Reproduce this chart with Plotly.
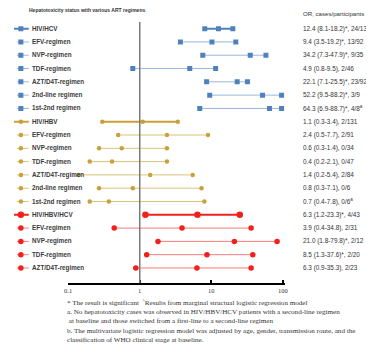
import plotly.graph_objects as go

# ---------------- data ----------------
labels_hcv = ["HIV/HCV", "EFV-regimen", "NVP-regimen", "TDF-regimen",
              "AZT/D4T-regimen", "2nd-line regimen", "1st-2nd regimen"]
labels_hbv = ["HIV/HBV", "EFV-regimen", "NVP-regimen", "TDF-regimen",
              "AZT/D4T-regimen", "2nd-line regimen", "1st-2nd regimen"]
labels_tri = ["HIV/HBV/HCV", "EFV-regimen", "NVP-regimen", "TDF-regimen",
              "AZT/D4T-regimen"]

or_hcv = [12.6, 10.2, 35.0, 5.0, 23.0, 52.0, 65.0]
lo_hcv = [8.1, 3.7, 7.6, 0.8, 8.6, 9.5, 6.9]
hi_hcv = [20.0, 22.0, 58.0, 11.5, 32.0, 96.0, 96.0]

or_hbv = [1.1, 2.4, 0.56, 0.41, 1.4, 0.8, 0.37]
lo_hbv = [0.3, 0.5, 0.27, 0.2, 0.14, 0.27, 0.2]
hi_hbv = [3.4, 9.0, 2.4, 2.4, 5.5, 7.3, 8.0]

or_tri = [6.4, 3.9, 21.0, 8.7, 6.3]
lo_tri = [1.2, 0.44, 1.8, 1.25, 0.88]
hi_tri = [25.0, 36.0, 83.0, 38.0, 36.0]

txt_hcv = ["12.4 (8.1-18.2)*, 24/130", "9.4 (3.5-19.2)*, 13/92",
           "34.2 (7.3-47.9)*, 9/35", "4.9 (0.8-9.5), 2/46",
           "22.1 (7.1-25.5)*, 23/92", "52.2 (9.5-88.2)*, 3/9",
           "64.3 (6.9-88.7)*, 4/8<sup>a</sup>"]
txt_hbv = ["1.1 (0.3-3.4), 2/131", "2.4 (0.5-7.7), 2/91",
           "0.6 (0.3-1.4), 0/34", "0.4 (0.2-2.1), 0/47",
           "1.4 (0.2-5.4), 2/84", "0.8 (0.3-7.1), 0/6",
           "0.7 (0.4-7.8), 0/6<sup>a</sup>"]
txt_tri = ["6.3 (1.2-23.3)*, 4/43", "3.9 (0.4-34.8), 2/31",
           "21.0 (1.8-79.8)*, 2/12", "8.5 (1.3-37.6)*, 2/20",
           "6.3 (0.9-35.3), 2/23"]

tick_vals = [0.1, 1, 10, 100]
tick_text = ["0.1", "1", "10", "100"]

title_text = "Hepatotoxicity status with various ART regimens"
right_header = "OR, cases/participants"
footnotes = [
    "* The result is significant  <sup>^</sup>Results from marginal structual logistic regression model",
    "a. No hepatotoxicity cases was observed in HIV/HBV/HCV patients with a second-line regimen",
    " at baseline and those switched from a first-line to a second-line regimen",
    "b. The multivariate logistic regression model was adjusted by age, gender, transmission route, and the",
    "classification of WHO clinical stage at baseline.",
]

# ---------------- layout geometry (page px; page body has 8px margin) ----------------
OFF = 8
W, H = 374 - OFF, 347 - OFF
PLOT_TOP, PLOT_BOTTOM, PLOT_RIGHT = 22, 283, 285
AX_LEFT = 65
ML = 0
MT = PLOT_TOP - OFF
MB = (H + OFF) - PLOT_BOTTOM
MR = (W + OFF) - PLOT_RIGHT
PW = W - ML - MR
PH = H - MT - MB

styles = [
    dict(mk="#4f81bd", head="#4f81bd", sub="#9ab7dc", sym="square", ms=5, hms=5),
    dict(mk="#c9a13a", head="#c9a13a", sub="#dcc27a", sym="circle", ms=4.5, hms=4.5),
    dict(mk="#f0201c", head="#f0201c", sub="#f87a78", sym="circle", ms=5.5, hms=6.5),
]

data_groups = [
    (labels_hcv, or_hcv, lo_hcv, hi_hcv, txt_hcv),
    (labels_hbv, or_hbv, lo_hbv, hi_hbv, txt_hbv),
    (labels_tri, or_tri, lo_tri, hi_tri, txt_tri),
]

n_rows = sum(len(g[0]) for g in data_groups)


def px_x(px):
    return (px - OFF - ML) / PW


def px_y(py):
    return (PLOT_BOTTOM - py) / PH


fig = go.Figure()
annotations = []
row = 0
for gi, (labs, ors, los, his, txts) in enumerate(data_groups):
    st = styles[gi]
    for k in range(len(labs)):
        head = (k == 0)
        lc = st["head"] if head else st["sub"]
        lw = 2 if head else 1
        ms = st["hms"] if head else st["ms"]
        fig.add_trace(go.Scatter(
            x=[los[k], ors[k], his[k]], y=[row, row, row],
            mode="lines+markers", xaxis="x", yaxis="y",
            line=dict(color=lc, width=lw),
            marker=dict(color=st["mk"], symbol=st["sym"], size=ms, line=dict(width=0)),
            hoverinfo="skip", showlegend=False))
        # legend-like icon at left
        fig.add_trace(go.Scatter(
            x=[(10 if head else 13) - OFF, 25 - OFF], y=[row, row], mode="lines",
            xaxis="x2", yaxis="y", line=dict(color=lc, width=lw),
            hoverinfo="skip", showlegend=False))
        fig.add_trace(go.Scatter(
            x=[17 - OFF], y=[row], mode="markers", xaxis="x2", yaxis="y",
            marker=dict(color=st["mk"], symbol=st["sym"], size=ms, line=dict(width=0)),
            hoverinfo="skip", showlegend=False))
        annotations.append(dict(
            x=26 - OFF, y=row, xref="x2", yref="y", text="<b>" + labs[k] + "</b>",
            showarrow=False, xanchor="left", yanchor="middle",
            font=dict(family="Liberation Sans", size=6.3, color="#3a3a3a")))
        annotations.append(dict(
            x=px_x(301), y=row, xref="paper", yref="y", text=txts[k],
            showarrow=False, xanchor="left", yanchor="middle",
            font=dict(family="Liberation Sans", size=6.4, color="#333333")))
        row += 1

annotations.append(dict(
    x=px_x(23), y=px_y(10), xref="paper", yref="paper", text="<b>" + title_text + "</b>",
    showarrow=False, xanchor="left", yanchor="middle",
    font=dict(family="Liberation Sans", size=5, color="#333333")))
annotations.append(dict(
    x=px_x(301), y=px_y(14), xref="paper", yref="paper", text=right_header,
    showarrow=False, xanchor="left", yanchor="middle",
    font=dict(family="Liberation Sans", size=6.1, color="#333333")))

foot_y = [302, 311.5, 321, 330.5, 340]
for t, fy in zip(footnotes, foot_y):
    annotations.append(dict(
        x=px_x(62), y=px_y(fy), xref="paper", yref="paper", text=t,
        showarrow=False, xanchor="left", yanchor="middle",
        font=dict(family="Liberation Serif", size=7.1, color="#333333")))

shapes = [dict(type="line", xref="x", yref="paper", x0=1, x1=1, y0=0, y1=1,
               line=dict(color="#7a7a7a", width=1.5))]

dom_left = (AX_LEFT - OFF - ML) / PW
fig.update_layout(
    width=W, height=H,
    margin=dict(l=ML, r=MR, t=MT, b=MB, pad=0),
    plot_bgcolor="white", paper_bgcolor="white",
    xaxis=dict(type="log", range=[-1, 2.03], domain=[dom_left, 1],
               tickvals=tick_vals, ticktext=tick_text,
               showline=True, linecolor="black", linewidth=1.5,
               ticks="inside", ticklen=3, tickcolor="black", tickwidth=1.5,
               showgrid=False, zeroline=False, anchor="y",
               tickfont=dict(family="Liberation Serif", size=6.5, color="#333333")),
    xaxis2=dict(range=[0, AX_LEFT - OFF], domain=[0, dom_left], visible=False,
                anchor="y", fixedrange=True),
    yaxis=dict(range=[n_rows - 1 + 1.13, -0.5], visible=False, showgrid=False,
               zeroline=False),
    annotations=annotations, shapes=shapes,
)

fig.write_html("out.html")
